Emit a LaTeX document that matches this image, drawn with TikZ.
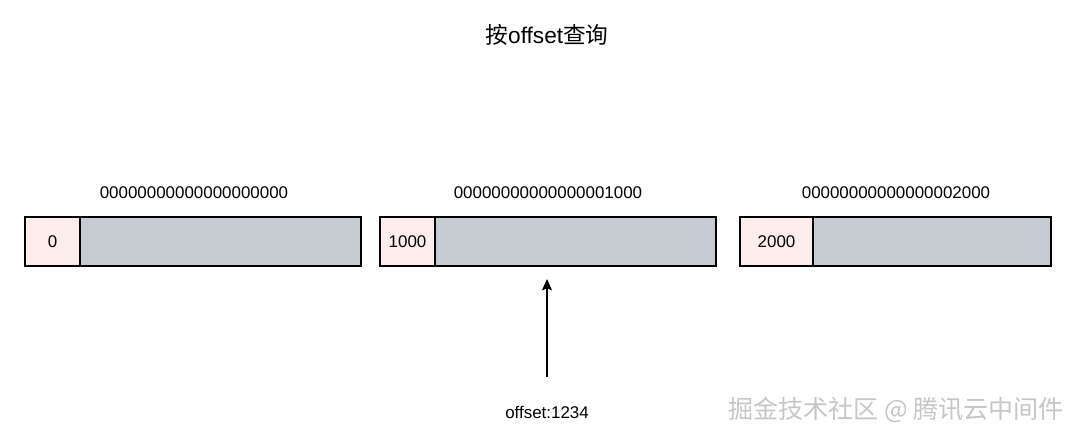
\documentclass[tikz,border=0pt]{standalone}
\usepackage{fontspec}
\setmainfont{Liberation Sans}
\newfontfamily\cjk{Noto Sans CJK SC}
\usepackage{tikz}
\usetikzlibrary{arrows.meta, positioning}
\definecolor{hdpink}{RGB}{252,236,236}
\definecolor{bodygray}{RGB}{198,202,209}
\tikzset{
  hd/.style={rectangle, draw=black, fill=hdpink, line width=0.8pt, outer sep=0pt,
             minimum height=36.75pt, inner sep=0pt, font=\fontsize{12.7}{15}\selectfont},
  body/.style={rectangle, draw=black, fill=bodygray, line width=0.8pt, outer sep=0pt,
               minimum height=36.75pt, inner sep=0pt},
  lbl/.style={font=\fontsize{12.7}{15}\selectfont, inner sep=1pt},
  ptr/.style={-{Stealth[length=8.5pt, width=7.5pt, inset=1.5pt]}, line width=0.8pt}
}

\begin{document}
\begin{tikzpicture}[x=0.75pt, y=-0.75pt]
        \useasboundingbox (0,0) rectangle (1080,440);
        % title
        \node[font=\fontsize{17}{20}\selectfont] (title) at (547,35) {{\cjk 按}offset{\cjk 查询}};
        % the three index files
        \node[hd, minimum width=41.25pt] (h0) at (52.5,241.5) {0};
        \node[body, minimum width=210.75pt, right=0pt of h0] (b0) {};
        \node[hd, minimum width=41.25pt] (h1) at (407.5,241.5) {1000};
        \node[body, minimum width=210.75pt, right=0pt of h1] (b1) {};
        \node[hd, minimum width=54.75pt] (h2) at (776.5,241.5) {2000};
        \node[body, minimum width=178.5pt, right=0pt of h2] (b2) {};
        % file names
        \node[lbl] (n0) at (194,193) {00000000000000000000};
        \node[lbl] (n1) at (548,193) {00000000000000001000};
        \node[lbl] (n2) at (896,193) {00000000000000002000};
        % lookup
        \node[lbl] (q) at (547,412) {offset:1234};
        \coordinate (tip) at (547,279);
        \draw[ptr] (q.north) ++(0,-27) -- (tip);
        % watermark
        \node[font=\cjk\fontsize{18.8}{22}\selectfont, text=gray!45] (wm) at (896,410) {掘金技术社区 @ 腾讯云中间件};
      \end{tikzpicture}
\end{document}
